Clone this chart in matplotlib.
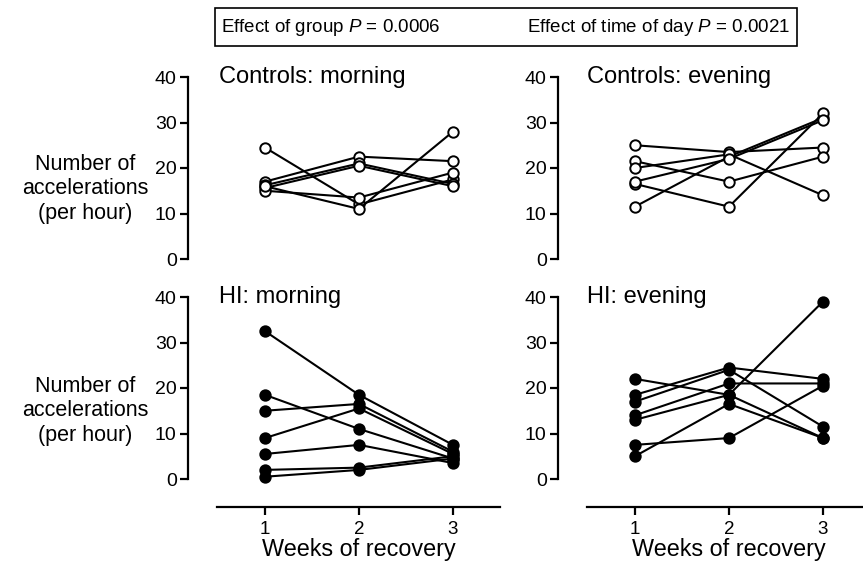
import matplotlib
matplotlib.use("Agg")
import matplotlib.pyplot as plt
from matplotlib.patches import Rectangle

plt.rcParams['font.family'] = ['Liberation Sans', 'DejaVu Sans']
plt.rcParams['mathtext.fontset'] = 'custom'
plt.rcParams['mathtext.it'] = 'Liberation Sans:italic'
plt.rcParams['mathtext.rm'] = 'Liberation Sans'

weeks = [1, 2, 3]
week_labels = ["1", "2", "3"]
y_ticks = [0, 10, 20, 30, 40]

controls_morning = [
    [24.5, 12.0, 17.5],
    [17.0, 22.5, 21.5],
    [16.2, 21.0, 16.5],
    [15.6, 20.5, 16.0],
    [15.0, 13.5, 19.0],
    [16.0, 11.0, 28.0],
]
controls_evening = [
    [25.0, 23.5, 24.5],
    [11.5, 22.5, 31.0],
    [21.5, 17.0, 22.5],
    [16.5, 11.5, 32.0],
    [20.0, 23.0, 14.0],
    [17.0, 22.0, 30.5],
]
hi_morning = [
    [32.5, 18.5, 7.5],
    [15.0, 16.5, 6.0],
    [9.0, 15.5, 5.5],
    [18.5, 11.0, 4.5],
    [5.5, 7.5, 3.5],
    [2.0, 2.5, 5.0],
    [0.5, 2.0, 4.5],
]
hi_evening = [
    [22.0, 18.5, 9.0],
    [18.5, 24.5, 22.0],
    [17.0, 24.0, 11.5],
    [14.0, 21.0, 21.0],
    [13.0, 18.5, 39.0],
    [7.5, 9.0, 20.5],
    [5.0, 16.5, 9.0],
]

panels = [
    ("Controls: morning", controls_morning, False),
    ("Controls: evening", controls_evening, False),
    ("HI: morning", hi_morning, True),
    ("HI: evening", hi_evening, True),
]

W, H = 863, 563
fig = plt.figure(figsize=(W / 100, H / 100), dpi=100)

def px_axes(x0, ytop, x1, ybot):
    return fig.add_axes([x0 / W, 1 - ybot / H, (x1 - x0) / W, (ybot - ytop) / H])

positions = [
    (217, 77, 500, 259),
    (587, 77, 870, 259),
    (217, 297, 500, 479),
    (587, 297, 870, 479),
]
title_x = [219, 587, 219, 587]

for (title, data, filled), pos, tx in zip(panels, positions, title_x):
    ax = px_axes(*pos)
    ax.set_facecolor('none')
    for subj in data:
        ax.plot(weeks, subj, color='black', lw=1.5, marker='o', ms=7.5,
                mfc='black' if filled else 'white', mec='black', mew=1.4,
                clip_on=False, zorder=3)
    ax.set_xlim(0.49, 3.5)
    ax.set_ylim(0, 40)
    ax.set_yticks(y_ticks)
    ax.set_yticklabels([str(t) for t in y_ticks])
    ax.spines['top'].set_visible(False)
    ax.spines['right'].set_visible(False)
    ax.spines['left'].set_position(('outward', 21))
    ax.spines['left'].set_linewidth(1.6)
    ax.tick_params(axis='y', direction='out', length=6, width=1.6, pad=2,
                   labelsize=14)
    ax.text((tx - pos[0]) / (pos[2] - pos[0]), 1.0, title,
            transform=ax.transAxes, fontsize=17, ha='left', va='center')
    if filled:
        ax.spines['bottom'].set_position(('outward', 20))
        ax.spines['bottom'].set_linewidth(1.6)
        ax.set_xticks(weeks)
        ax.set_xticklabels(week_labels)
        ax.tick_params(axis='x', direction='out', length=6, width=1.6, pad=4,
                       labelsize=13.5)
        ax.set_xlabel("Weeks of recovery", fontsize=16.8, labelpad=0)
    else:
        ax.spines['bottom'].set_visible(False)
        ax.set_xticks([])

for yc in (189, 411):
    fig.text(85 / W, 1 - yc / H, "Number of\naccelerations\n(per hour)",
             ha='center', va='center', fontsize=15.5, linespacing=1.25)

fig.add_artist(Rectangle((215 / W, 1 - 46 / H), (797 - 215) / W, 38 / H,
                         transform=fig.transFigure, fill=False, lw=1.2,
                         edgecolor='black'))
fig.text(221 / W, 1 - 27 / H, "Effect of group $P$ = 0.0006",
         ha='left', va='center', fontsize=13.5)
fig.text(790 / W, 1 - 27 / H, "Effect of time of day $P$ = 0.0021",
         ha='right', va='center', fontsize=13.5)

fig.savefig("out.png", dpi=100)
